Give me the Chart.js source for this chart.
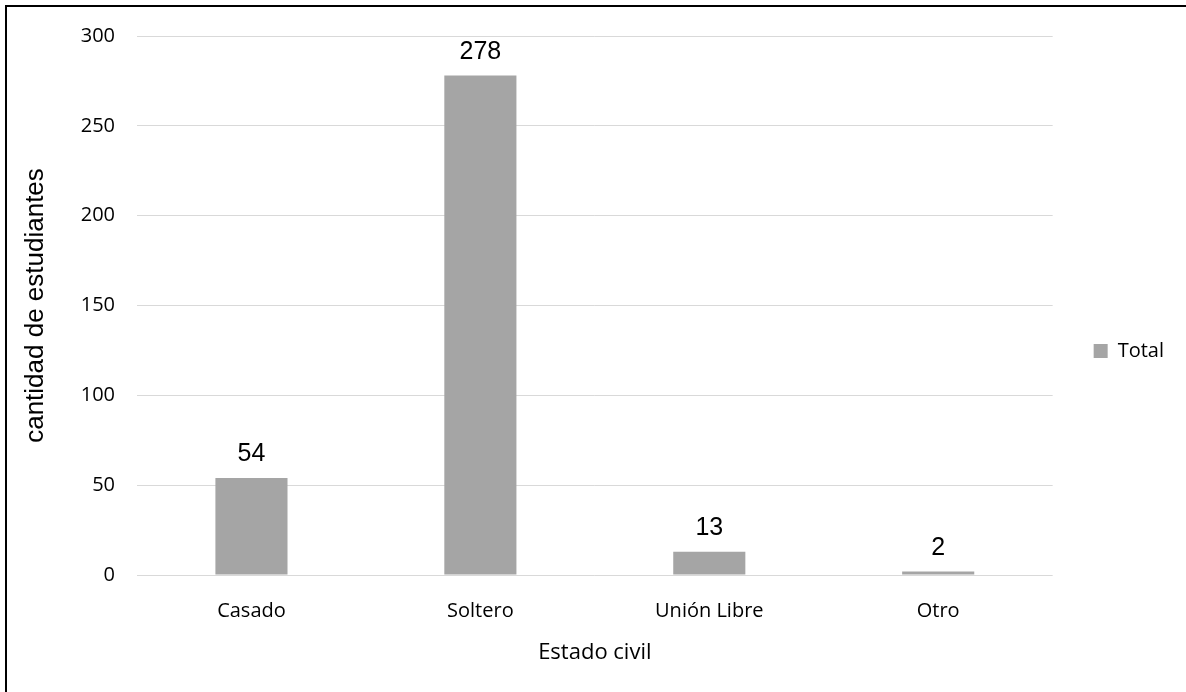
<!DOCTYPE html>
<html>
<head>
<meta charset="utf-8">
<script src="https://cdn.jsdelivr.net/npm/chart.js@4/dist/chart.umd.min.js"></script>
<style>
  html, body { margin: 0; padding: 0; background: #fff; }
  #wrap { position: relative; width: 1186px; height: 692px; }
  #frame { position: absolute; left: 5px; top: 5px; right: 0; bottom: 0;
           border-top: 2px solid #000; border-left: 2px solid #000; pointer-events: none; }
  canvas { position: absolute; left: 0; top: 0; }
</style>
</head>
<body>
<div id="wrap">
  <canvas id="chart" width="1186" height="692"></canvas>
  <div id="frame"></div>
</div>
<script>
// ---------- Data ----------
const categories = ["Casado", "Soltero", "Unión Libre", "Otro"];
const totals = [54, 278, 13, 2];
const yTicks = [0, 50, 100, 150, 200, 250, 300];

const CAL = "'Open Sans', 'Noto Sans', sans-serif";
const ARIAL = "'Liberation Sans', Arial, sans-serif";

// draw the value above each bar
const valueLabels = {
  id: "valueLabels",
  afterDatasetsDraw(chart) {
    const ctx = chart.ctx;
    const meta = chart.getDatasetMeta(0);
    ctx.save();
    ctx.font = "25px " + ARIAL;
    ctx.fillStyle = "#000";
    ctx.textAlign = "center";
    ctx.textBaseline = "bottom";
    meta.data.forEach((bar, i) => {
      ctx.fillText(String(totals[i]), bar.x, bar.y - 11);
    });
    ctx.restore();
  },
};

new Chart(document.getElementById("chart").getContext("2d"), {
  type: "bar",
  data: {
    labels: categories,
    datasets: [
      {
        label: "Total",
        data: totals,
        backgroundColor: "#a5a5a5",
        borderWidth: 0,
        categoryPercentage: 1,
        barPercentage: 0.315,
      },
    ],
  },
  plugins: [valueLabels],
  options: {
    responsive: false,
    animation: false,
    layout: { padding: { left: 20, top: 36, right: 12, bottom: 26 } },
    plugins: {
      tooltip: { enabled: false },
      legend: {
        position: "right",
        labels: {
          boxWidth: 14,
          boxHeight: 14,
          color: "#000",
          font: { family: CAL, size: 20 },
          padding: 41,
        },
      },
    },
    scales: {
      x: {
        grid: { display: false },
        border: { display: false },
        ticks: { color: "#000", font: { family: CAL, size: 20 }, padding: 16, maxRotation: 0 },
        title: {
          display: true,
          text: "Estado civil",
          color: "#000",
          font: { family: CAL, size: 22 },
          padding: { top: 6, bottom: 0 },
        },
        afterFit(scale) { scale.height = 692 - 575 - 26; },
      },
      y: {
        min: 0,
        max: 300,
        afterBuildTicks(scale) { scale.ticks = yTicks.map((v) => ({ value: v })); },
        grid: { color: "#d9d9d9", lineWidth: 1, drawTicks: false },
        border: { display: false },
        ticks: { color: "#000", font: { family: CAL, size: 20 }, padding: 22 },
        title: {
          display: true,
          text: "cantidad de estudiantes",
          color: "#000",
          font: { family: ARIAL, size: 26 },
          padding: { top: 0, bottom: 0 },
        },
        afterFit(scale) { scale.width = 137 - 20; },
      },
    },
  },
});
</script>
</body>
</html>
